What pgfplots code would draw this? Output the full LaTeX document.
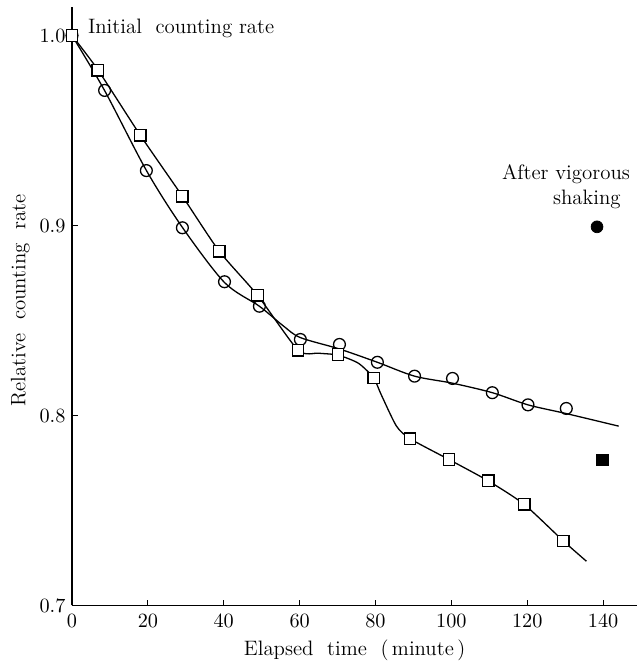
\documentclass[border=0pt]{standalone}
\usepackage{pgfplots}
\pgfplotsset{compat=1.18}
\begin{document}
\begin{tikzpicture}[font=\fontsize{11.3}{13.5}\selectfont]
\begin{axis}[
    scale only axis,
    width=306pt, height=324pt,
    xmin=0, xmax=149,
    ymin=0.7, ymax=1.015,
    axis lines=left,
    axis line style={-, line width=0.7pt},
    xtick={0,20,...,140},
    ytick={0.7,0.8,0.9,1.0},
    tick label style={font=\fontsize{11.3}{13.5}\selectfont},
    label style={font=\fontsize{11.3}{13.5}\selectfont},
    yticklabel style={/pgf/number format/.cd, fixed, fixed zerofill, precision=1},
    xticklabel style={yshift=-1.5pt},
    tick align=inside,
    major tick length=3pt,
    tick style={line width=0.6pt, black},
    xlabel={Elapsed\ \ time\ \ (\,minute\,)},
    ylabel={Relative\ \ counting\ \ rate},
    every axis x label/.style={at={(axis description cs:0.5,-0.0753)}, anchor=center, inner sep=0pt},
    every axis y label/.style={at={(axis description cs:-0.0915,0.51)}, rotate=90, anchor=center, inner sep=0pt},
    clip=false,
]
% fitted curves
\addplot[black, line width=0.7pt, smooth, tension=0.5] coordinates {
    (0,1.0) (8.6,0.971) (19.6,0.929) (29.1,0.899) (40.2,0.870) (49.4,0.8575)
    (55.8,0.847) (60.2,0.841) (70.5,0.835) (80.5,0.828) (90.3,0.8207)
    (100.3,0.817) (110.8,0.812) (120.2,0.8056) (130.3,0.801) (144.1,0.7944)
};
\addplot[black, line width=0.7pt, smooth, tension=0.4] coordinates {
    (0,1.0) (6.8,0.982) (18,0.9475) (29.1,0.9154) (38.8,0.8865) (48.9,0.8633)
    (59.6,0.8344) (65,0.8328) (70.1,0.8318) (75.5,0.8275) (79.5,0.8198)
    (81.5,0.811) (85.5,0.7945) (89.1,0.7878) (99.4,0.7768)
    (109.7,0.7656) (119.2,0.7532) (129.5,0.734) (135.6,0.7233)
};
% measured points
\addplot[only marks, mark=o, mark size=3.2pt, mark options={fill=white, line width=0.7pt}] coordinates {
    (0,1.0) (8.6,0.9711) (19.6,0.9289) (29.1,0.8988) (40.2,0.8704) (49.4,0.8575)
    (60.2,0.840) (70.5,0.8374) (80.5,0.828) (90.3,0.8207) (100.3,0.8195)
    (110.8,0.812) (120.2,0.8056) (130.3,0.8037)
};
\addplot[only marks, mark=square*, mark size=3.1pt, mark options={fill=white, line width=0.7pt}] coordinates {
    (0,1.0) (6.8,0.9817) (18,0.9475) (29.1,0.9154) (38.8,0.8865) (48.9,0.8633)
    (59.6,0.8344) (70.1,0.8321) (79.5,0.8198) (89.1,0.7878) (99.4,0.7768)
    (109.7,0.7656) (119.2,0.7532) (129.5,0.734)
};
% after vigorous shaking
\addplot[only marks, mark=*, mark size=3.2pt, black] coordinates {(138.4,0.8993)};
\addplot[only marks, mark=square*, mark size=3pt, black] coordinates {(139.8,0.7765)};
\node[anchor=west] at (axis cs:2.5,1.004) {Initial\ \ counting rate};
\node[anchor=east, align=right] at (axis cs:148.8,0.9205) {After vigorous\\shaking\hspace*{5pt}};
% page margins as in the scan
\path (axis description cs:-0.1274,-0.0918) (axis description cs:1,1.0117);
\end{axis}
\end{tikzpicture}
\end{document}
